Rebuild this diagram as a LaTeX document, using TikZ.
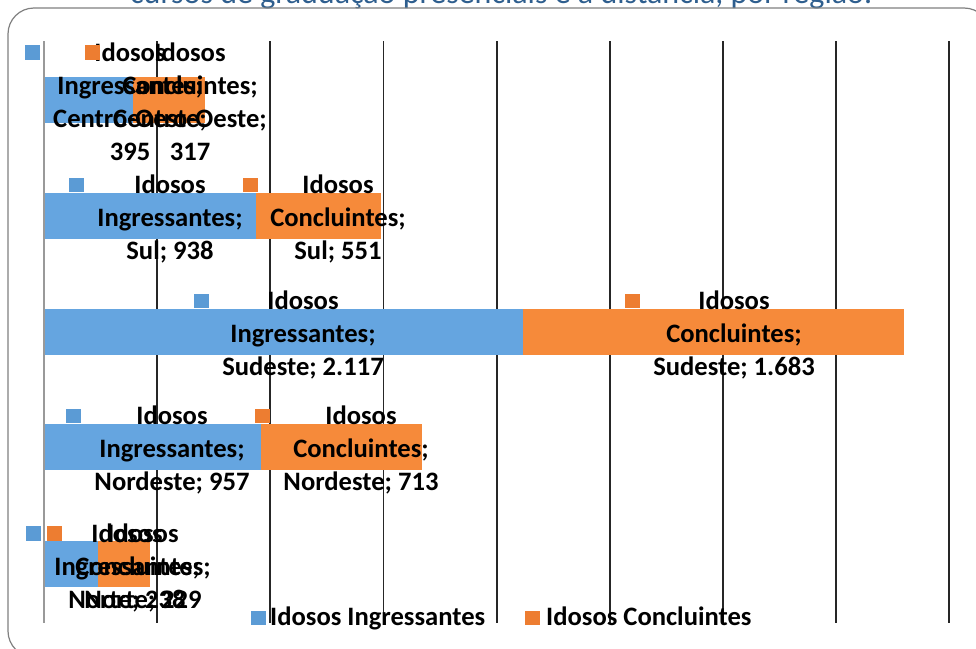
\documentclass[tikz,border=0pt]{standalone}
\usepackage{fontspec}
\setmainfont{Carlito}
\definecolor{keyblue}{RGB}{91,155,213}
\definecolor{keyorange}{RGB}{237,125,49}
\definecolor{barblue}{RGB}{101,165,224}
\definecolor{barorange}{RGB}{246,138,58}
\definecolor{titleblue}{RGB}{46,94,142}
\definecolor{framegray}{RGB}{128,128,128}
\tikzset{
  lbl/.style={anchor=base, inner sep=0pt, font=\fontsize{26.6}{33}\selectfont\bfseries},
  leg/.style={anchor=base west, inner sep=0pt, font=\fontsize{26.6}{33}\selectfont\bfseries},
  gridline/.style={line width=1.8pt, black!85},
  axisline/.style={line width=1.8pt, black!40},
}
\newcommand\dlab[6]{%
  \fill[#5] (#4,#3-16) rectangle (#4+14.5,#3-1.5);
  \foreach \txt [count=\i] in {#6} {\node[lbl] (#1-\i) at (#2,{#3+33*(\i-1)}) {\txt};}
}
\begin{document}
\begin{tikzpicture}[x=1pt,y=-1pt]
\useasboundingbox (0,0) rectangle (976,648);
\clip (0,0) rectangle (976,648);
% title (cut off at top)
\node[anchor=base west, inner sep=0pt, font=\fontsize{32}{38}\selectfont, text=titleblue] (title) at (130,3.5) {cursos de graduação presenciais e a distância, por região.};
% frame
\draw[framegray, line width=1.2pt, rounded corners=26pt] (8,8) rectangle (990,657);
% gridlines
\foreach \k in {1,...,8} {\draw[gridline] ({44+113.15*\k},41) -- ({44+113.15*\k},623);}
% bars
\fill[barblue] (44,77) rectangle (133.4,123);
\fill[barorange] (133.4,77) rectangle (205.1,123);
\fill[barblue] (44,193) rectangle (256.3,239);
\fill[barorange] (256.3,193) rectangle (381,239);
\fill[barblue] (44,309) rectangle (523,355);
\fill[barorange] (523,309) rectangle (904,355);
\fill[barblue] (44,424) rectangle (260.6,470);
\fill[barorange] (260.6,424) rectangle (421.9,470);
\fill[barblue] (44,541) rectangle (97.9,587);
\fill[barorange] (97.9,541) rectangle (149.7,587);
\draw[axisline] (44,41) -- (44,623);
% data labels
\dlab{coI}{130}{61}{25}{keyblue}{Idosos,Ingressantes;,Centro-Oeste;,395}
\dlab{coC}{190}{61}{85}{keyorange}{Idosos,Concluintes;,Centro-Oeste;,317}
\dlab{sulI}{170}{193.5}{69}{keyblue}{Idosos,Ingressantes;,Sul; 938}
\dlab{sulC}{338}{193.5}{243}{keyorange}{Idosos,Concluintes;,Sul; 551}
\dlab{seI}{303}{309.5}{194}{keyblue}{Idosos,Ingressantes;,Sudeste; 2.117}
\dlab{seC}{734}{309.5}{625}{keyorange}{Idosos,Concluintes;,Sudeste; 1.683}
\dlab{neI}{172}{424.5}{66}{keyblue}{Idosos,Ingressantes;,Nordeste; 957}
\dlab{neC}{361}{424.5}{255}{keyorange}{Idosos,Concluintes;,Nordeste; 713}
\dlab{noI}{127}{542}{26}{keyblue}{Idosos,Ingressantes;,Norte; 238}
\dlab{noC}{143}{542}{47}{keyorange}{Idosos,Concluintes;,Norte; 229}
% legend
\fill[keyblue] (251,610.5) rectangle (265.5,624.5);
\node[leg] (legI) at (270,625) {Idosos Ingressantes};
\fill[keyorange] (525,610.5) rectangle (539.5,624.5);
\node[leg] (legC) at (546,625) {Idosos Concluintes};
\end{tikzpicture}
\end{document}
